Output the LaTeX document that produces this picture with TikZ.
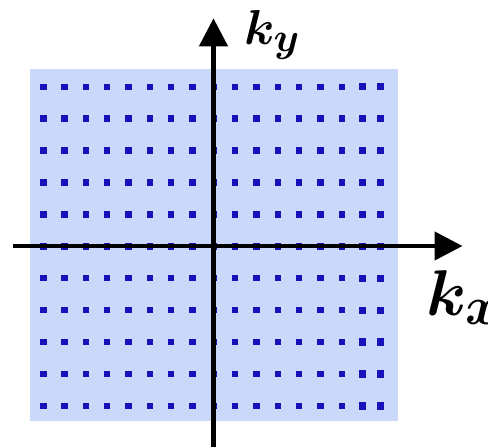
\documentclass[tikz,border=0pt]{standalone}
\usepackage{amsmath}
\usetikzlibrary{arrows.meta}
\definecolor{planebg}{RGB}{202,216,250}
\definecolor{dotblue}{RGB}{26,16,186}
\tikzset{
  axisline/.style={line width=4.6pt, line cap=butt, -{Triangle[length=28pt,width=28pt]}},
  kdot/.style={fill=dotblue, draw=none, minimum size=6.4pt, inner sep=0pt, outer sep=0pt, rectangle},
  kdotbig/.style={kdot, minimum size=7.4pt},
  axlabel/.style={inner sep=0pt, outer sep=0pt, font=\Huge}
}
\begin{document}
\begin{tikzpicture}[x=1pt,y=-1pt]
\useasboundingbox (0,0) rectangle (488,447);
\fill[planebg] (30,69) rectangle (398,420.5);
\foreach \i in {0,...,10}{
  \foreach \j in {0,...,14}{
    \node[kdot] (d-\i-\j) at ({43.3+21.33*\j},{86.7+31.93*\i}) {};
  }
  \node[kdotbig] (d-\i-15) at (362.3,{86.7+31.93*\i}) {};
  \node[kdotbig] (d-\i-16) at (380.3,{86.7+31.93*\i}) {};
}
\coordinate (xs) at (13,246);
\coordinate (xe) at (462.5,246);
\coordinate (ys) at (213.5,447);
\coordinate (ye) at (213.5,18.3);
\draw[axisline] (xs) -- (xe);
\draw[axisline] (ys) -- (ye);
\node[axlabel, anchor=base west, scale=1.97] (ky) at (244,44) {$\boldsymbol{k_y}$};
\node[axlabel, anchor=base west, scale=2.6] (kx) at (426,315) {$\boldsymbol{k_x}$};
\end{tikzpicture}
\end{document}
